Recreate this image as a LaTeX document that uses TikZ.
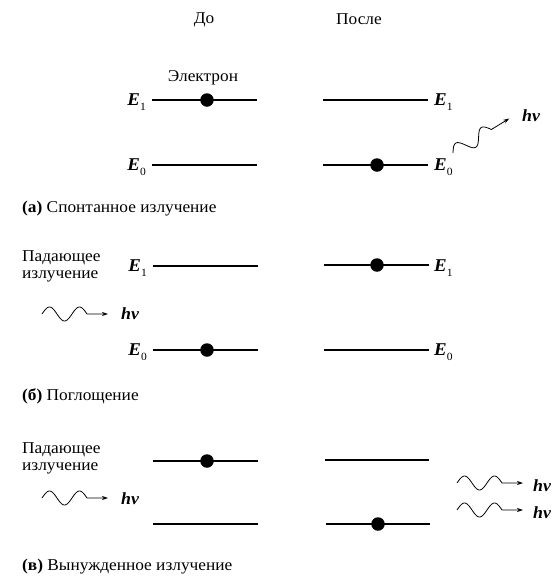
\documentclass[tikz,border=0pt]{standalone}
\usepackage{fontspec}
\setmainfont{Liberation Serif}[FakeStretch=1.05]
\usetikzlibrary{arrows.meta, positioning}

\tikzset{
  level/.style={line width=1.4pt, black},
  electron/.style={circle, fill=black, inner sep=0pt, minimum size=13.5pt},
  lbl/.style={font=\fontsize{16.5}{17}\selectfont, inner sep=0pt},
  elbl/.style={font=\fontsize{18}{17}\selectfont, inner sep=0pt},
  hnu/.style={font=\fontsize{17}{17}\selectfont\bfseries\itshape, inner sep=0pt},
  photon/.pic={\draw[line width=0.8pt, -{Stealth[length=6pt, width=4pt]}]
      plot[domain=0:45, samples=40, smooth] (\x, {-7*sin(\x*12)}) -- (66,0);},
}
\newcommand{\Elev}[1]{\textbf{\textit{E}}\raisebox{-5pt}{\fontsize{11}{11}\selectfont #1}}

\begin{document}
\begin{tikzpicture}[x=1pt, y=-1pt]
  \useasboundingbox (0,0) rectangle (560,579);

  % Заголовки столбцов
  \node[lbl] (before) at (204,20) {До};
  \node[lbl] (after) at (359,19) {После};

  % (а) Спонтанное излучение
  \coordinate (a1l) at (152,100); \coordinate (a1r) at (257,100);
  \coordinate (a0l) at (152,165); \coordinate (a0r) at (257,165);
  \coordinate (A1l) at (323,100); \coordinate (A1r) at (428,100);
  \coordinate (A0l) at (323,165); \coordinate (A0r) at (428,165);
  \draw[level] (a1l) -- (a1r);
  \draw[level] (a0l) -- (a0r);
  \draw[level] (A1l) -- (A1r);
  \draw[level] (A0l) -- (A0r);
  \node[electron] (ae) at (207,100) {};
  \node[electron] (Ae) at (377,165) {};
  \node[lbl] (aelec) at (203,78) {Электрон};
  \node[elbl, anchor=base east] (a1) at (146,105) {\Elev{1}};
  \node[elbl, anchor=base east] (a0) at (146,170) {\Elev{0}};
  \node[elbl, anchor=base west] (A1) at (434,105) {\Elev{1}};
  \node[elbl, anchor=base west] (A0) at (434,170) {\Elev{0}};
  \pic[rotate=31.5] at (453,153) {photon};
  \node[hnu] (ahnu) at (531,116) {hν};
  \node[lbl, anchor=west] (capa) at (22,209) {\textbf{(а)} Спонтанное излучение};

  % (б) Поглощение
  \coordinate (b1l) at (153,266); \coordinate (b1r) at (258,266);
  \coordinate (b0l) at (153,350); \coordinate (b0r) at (258,350);
  \coordinate (B1l) at (324,265); \coordinate (B1r) at (429,265);
  \coordinate (B0l) at (324,350); \coordinate (B0r) at (429,350);
  \draw[level] (b1l) -- (b1r);
  \draw[level] (b0l) -- (b0r);
  \draw[level] (B1l) -- (B1r);
  \draw[level] (B0l) -- (B0r);
  \node[electron] (be) at (207,350) {};
  \node[electron] (Be) at (377,265) {};
  \node[elbl, anchor=base east] (b1) at (147,271) {\Elev{1}};
  \node[elbl, anchor=base east] (b0) at (147,355) {\Elev{0}};
  \node[elbl, anchor=base west] (B1) at (434,271) {\Elev{1}};
  \node[elbl, anchor=base west] (B0) at (434,355) {\Elev{0}};
  \node[lbl, anchor=west, align=left] (binc) at (22,266) {Падающее\\излучение};
  \pic at (42,314) {photon};
  \node[hnu] (bhnu) at (130,314) {hν};
  \node[lbl, anchor=west] (capb) at (22,396) {\textbf{(б)} Поглощение};

  % (в) Вынужденное излучение
  \coordinate (c1l) at (153,461); \coordinate (c1r) at (258,461);
  \coordinate (c0l) at (153,524); \coordinate (c0r) at (258,524);
  \coordinate (C1l) at (325,460); \coordinate (C1r) at (429,460);
  \coordinate (C0l) at (326,524); \coordinate (C0r) at (430,524);
  \draw[level] (c1l) -- (c1r);
  \draw[level] (c0l) -- (c0r);
  \draw[level] (C1l) -- (C1r);
  \draw[level] (C0l) -- (C0r);
  \node[electron] (ce) at (207,461) {};
  \node[electron] (Ce) at (378,524) {};
  \node[lbl, anchor=west, align=left] (cinc) at (22,458) {Падающее\\излучение};
  \pic at (42,498) {photon};
  \node[hnu] (chnu) at (130,499) {hν};
  \pic at (457,483) {photon};
  \pic at (457,510) {photon};
  \node[hnu] (Chnu1) at (542,486) {hν};
  \node[hnu] (Chnu2) at (542,513) {hν};
  \node[lbl, anchor=west] (capc) at (22,567) {\textbf{(в)} Вынужденное излучение};
\end{tikzpicture}
\end{document}
